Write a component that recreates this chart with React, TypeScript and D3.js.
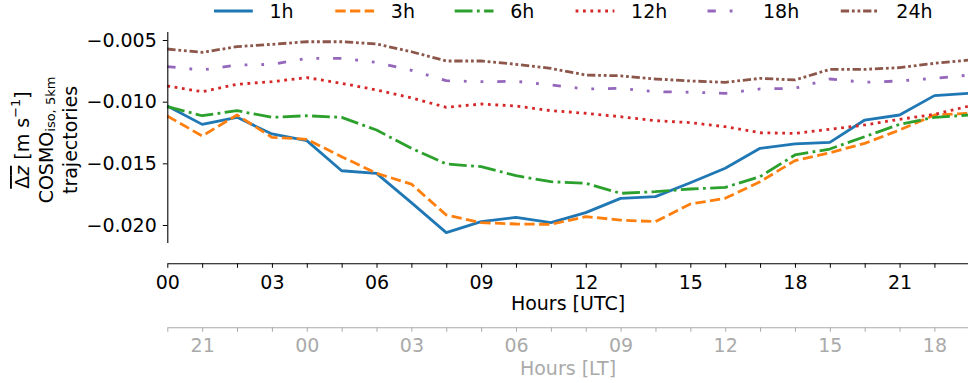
import React, { useRef, useEffect } from 'react';
import * as d3 from 'd3';

// hours (UTC) on the x axis
const hours = [0, 1, 2, 3, 4, 5, 6, 7, 8, 9, 10, 11, 12, 13, 14, 15, 16, 17, 18, 19, 20, 21, 22, 23];

const seriesNames = ['1h', '3h', '6h', '12h', '18h', '24h'];

const values1h = [-0.01035, -0.01184, -0.01127, -0.01262, -0.01316, -0.0156, -0.01581, -0.01819, -0.02062, -0.01973, -0.01938, -0.01981,
  -0.019, -0.01784, -0.0177, -0.01657, -0.0154, -0.01378, -0.01343, -0.0133, -0.01149, -0.01108, -0.00951, -0.00932];
const values3h = [-0.01116, -0.01278, -0.01108, -0.01289, -0.01305, -0.01446, -0.01581, -0.01668, -0.01919, -0.01981, -0.01992, -0.01995,
  -0.01932, -0.0196, -0.01973, -0.0183, -0.01784, -0.01649, -0.01478, -0.01414, -0.01338, -0.0123, -0.01108, -0.01094];
const values6h = [-0.0104, -0.01114, -0.01073, -0.01127, -0.01114, -0.01127, -0.0123, -0.01378, -0.01505, -0.01527, -0.016, -0.01649,
  -0.01662, -0.01743, -0.0173, -0.01708, -0.01695, -0.01608, -0.01432, -0.01384, -0.01284, -0.01184, -0.01127, -0.01108];
const values12h = [-0.00873, -0.00919, -0.00859, -0.00838, -0.00805, -0.00851, -0.00905, -0.00969, -0.01046, -0.01019, -0.01035, -0.01073,
  -0.01094, -0.01122, -0.01154, -0.0117, -0.01203, -0.01252, -0.01257, -0.01224, -0.01189, -0.01143, -0.01103, -0.01035];
const values18h = [-0.00716, -0.00743, -0.00703, -0.00697, -0.00649, -0.00649, -0.00681, -0.00746, -0.0083, -0.00838, -0.00835, -0.00865,
  -0.00897, -0.00892, -0.00919, -0.00924, -0.00932, -0.00897, -0.00892, -0.00816, -0.00843, -0.00832, -0.00811, -0.00784];
const values24h = [-0.00573, -0.006, -0.00554, -0.00535, -0.00514, -0.00514, -0.00532, -0.00595, -0.0067, -0.0067, -0.00697, -0.0073,
  -0.00784, -0.0079, -0.00816, -0.00832, -0.00843, -0.00811, -0.00824, -0.00738, -0.00738, -0.00724, -0.00689, -0.00662];

const yTicks = [-0.02, -0.015, -0.01, -0.005];
const utcOffset = 4; // LT = UTC - 4

const colors = ['#1f77b4', '#ff7f0e', '#2ca02c', '#d62728', '#9467bd', '#8c564b'];
const dashes = [
  null,
  '10.3,4.4',
  '17.8,4.4,2.8,4.4',
  '2.8,4.6',
  '8.3,13.9,2.8,13.9,2.8,13.9',
  '8.3,2.8,2.8,2.8,2.8,2.8',
];

const App = () => {
  const svgRef = useRef<SVGSVGElement>(null);

  useEffect(() => {
    const root = d3.select(svgRef.current);
    root.selectAll('*').remove();

    const width = 968;
    const height = 383;
    const font = 'DejaVu Sans';
    const fs = 19;

    const svg = root.attr('width', width).attr('height', height);

    const x = d3.scaleLinear().domain([0, 23]).range([167.3, 969.3]);
    const y = d3.scaleLinear().domain([-0.02146, -0.00435]).range([243, 32]);

    const allSeries = [values1h, values3h, values6h, values12h, values18h, values24h];

    // Lines
    const line = d3
      .line<number>()
      .x((_, i) => x(hours[i]))
      .y((d) => y(d));

    allSeries.forEach((vals, i) => {
      svg
        .append('path')
        .datum(vals)
        .attr('d', line)
        .attr('fill', 'none')
        .attr('stroke', colors[i])
        .attr('stroke-width', 2.8)
        .attr('stroke-linejoin', 'round')
        .attr('stroke-dasharray', dashes[i]);
    });

    // Y axis
    const yAxis = svg
      .append('g')
      .attr('transform', `translate(167.3,0)`)
      .call(
        d3
          .axisLeft(y)
          .tickValues(yTicks)
          .tickFormat(d3.format('.3f'))
          .tickSize(4.5)
          .tickSizeOuter(0)
          .tickPadding(6)
      );
    yAxis.select('.domain').attr('d', 'M0.5,32V243').attr('stroke-width', 1.1);
    yAxis.selectAll('text').attr('font-family', font).attr('font-size', fs).attr('fill', '#000');

    // UTC axis
    const utcAxis = svg
      .append('g')
      .attr('transform', 'translate(0,263.3)')
      .call(
        d3
          .axisBottom(x)
          .tickValues(hours)
          .tickFormat((d) => ((d as number) % 3 === 0 ? d3.format('02d')(d as number) : ''))
          .tickSize(4.5)
          .tickSizeOuter(0)
          .tickPadding(7.5)
      );
    utcAxis.select('.domain').attr('stroke-width', 1.1);
    utcAxis.selectAll('text').attr('font-family', font).attr('font-size', fs).attr('fill', '#000');

    svg
      .append('text')
      .attr('x', 568)
      .attr('y', 309.5)
      .attr('text-anchor', 'middle')
      .attr('font-family', font)
      .attr('font-size', fs)
      .text('Hours [UTC]');

    // LT axis
    const grey = '#aaaaaa';
    const ltAxis = svg
      .append('g')
      .attr('transform', 'translate(0,327.3)')
      .call(
        d3
          .axisBottom(x)
          .tickValues(hours)
          .tickFormat((d) => {
            const lt = ((d as number) - utcOffset + 24) % 24;
            return lt % 3 === 0 ? d3.format('02d')(lt) : '';
          })
          .tickSize(4.5)
          .tickSizeOuter(0)
          .tickPadding(6.5)
      );
    ltAxis.select('.domain').attr('stroke', grey).attr('stroke-width', 1.1);
    ltAxis.selectAll('line').attr('stroke', grey);
    ltAxis.selectAll('text').attr('font-family', font).attr('font-size', fs).attr('fill', grey);

    svg
      .append('text')
      .attr('x', 568)
      .attr('y', 374.5)
      .attr('text-anchor', 'middle')
      .attr('font-family', font)
      .attr('font-size', fs)
      .attr('fill', grey)
      .text('Hours [LT]');

    // Y label (three rotated lines)
    const yl1 = svg
      .append('text')
      .attr('transform', 'translate(22,140) rotate(-90)')
      .attr('text-anchor', 'middle')
      .attr('dominant-baseline', 'central')
      .attr('font-family', font)
      .attr('font-size', fs);
    yl1.append('tspan').attr('text-decoration', 'overline').text('Δ').append('tspan').attr('font-style', 'italic').text('z');
    yl1.append('tspan').text(' [m s');
    yl1.append('tspan').attr('font-size', 13).attr('dy', -7).text('−1');
    yl1.append('tspan').attr('dy', 7).text(']');

    const yl2 = svg
      .append('text')
      .attr('transform', 'translate(46,140) rotate(-90)')
      .attr('text-anchor', 'middle')
      .attr('dominant-baseline', 'central')
      .attr('font-family', font)
      .attr('font-size', fs);
    yl2.append('tspan').text('COSMO');
    yl2.append('tspan').attr('font-size', 13).attr('dy', 4).text('iso, 5km');

    svg
      .append('text')
      .attr('transform', 'translate(70,140) rotate(-90)')
      .attr('text-anchor', 'middle')
      .attr('dominant-baseline', 'central')
      .attr('font-family', font)
      .attr('font-size', fs)
      .text('trajectories');

    // Legend
    const legendX = [214, 335.3, 454.7, 575.6, 707.5, 840.8];
    seriesNames.forEach((name, i) => {
      const g = svg.append('g').attr('transform', `translate(${legendX[i]},11)`);
      g.append('line')
        .attr('x1', 0)
        .attr('x2', 38.8)
        .attr('y1', 0)
        .attr('y2', 0)
        .attr('stroke', colors[i])
        .attr('stroke-width', 2.8)
        .attr('stroke-dasharray', dashes[i]);
      g.append('text')
        .attr('x', 55.5)
        .attr('y', 0)
        .attr('dominant-baseline', 'central')
        .attr('font-family', font)
        .attr('font-size', fs)
        .text(name);
    });
  }, []);

  return <svg ref={svgRef} style={{ position: 'absolute', left: 0, top: 0 }} />;
};

export default App;
